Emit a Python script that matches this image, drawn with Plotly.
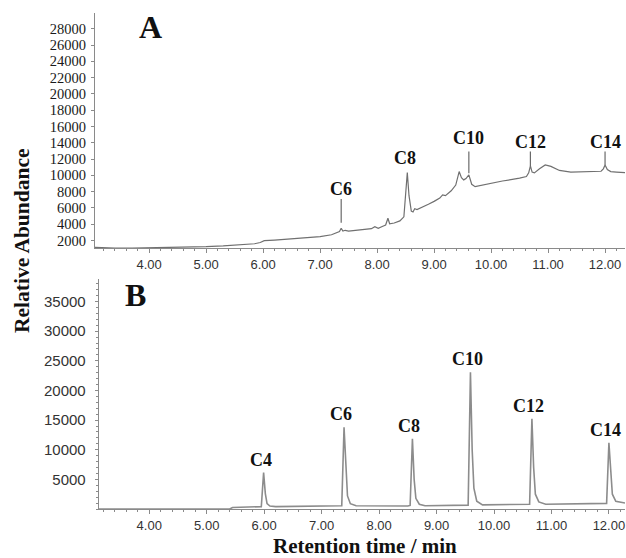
import plotly.graph_objects as go

# ---------------- Data ----------------
# Panel A: sample chromatogram (time in min, relative abundance)
a_time = [3.05, 3.2, 3.4, 3.7, 4.0, 4.3, 4.6, 5.0, 5.3, 5.6, 5.85, 5.95, 6.02, 6.2, 6.5,
          6.8, 7.0, 7.2, 7.3, 7.34, 7.37, 7.40, 7.44, 7.5, 7.7, 7.9, 7.96, 8.02, 8.1,
          8.15, 8.19, 8.22, 8.3, 8.4, 8.47, 8.50, 8.53, 8.56, 8.60, 8.63, 8.66, 8.7,
          8.8, 8.9, 9.0, 9.1, 9.15, 9.2, 9.3, 9.38, 9.44, 9.48, 9.52, 9.56, 9.61, 9.66,
          9.72, 9.9, 10.2, 10.5, 10.62, 10.66, 10.69, 10.72, 10.76, 10.85, 10.95, 11.05,
          11.2, 11.4, 11.6, 11.8, 11.93, 11.97, 12.0, 12.04, 12.1, 12.2, 12.35]
a_abund = [1150, 1080, 1060, 1070, 1090, 1130, 1180, 1240, 1330, 1450, 1600, 1750, 1980,
           2050, 2180, 2380, 2470, 2700, 2950, 3100, 3500, 3150, 3250, 3150, 3300, 3450,
           3700, 3500, 3750, 3900, 4730, 4050, 4150, 4400, 4900, 7500, 10330, 7500, 5600,
           5500, 5900, 5800, 6100, 6450, 6800, 7200, 7600, 7500, 8100, 8800, 10460, 9700,
           9440, 9600, 10050, 8900, 8610, 8900, 9300, 9650, 9850, 10300, 11160, 10400,
           10300, 10800, 11280, 11100, 10600, 10400, 10420, 10450, 10500, 10800, 11280,
           10700, 10460, 10400, 10330]

# Panel A peak marks (label, time, line bottom, line top)
a_mark_names = ["C6", "C10", "C12", "C14"]
a_mark_time = [7.37, 9.61, 10.69, 12.0]
a_mark_bottom = [4190, 10260, 11160, 11280]
a_mark_top = [7100, 12910, 12910, 12910]
# Panel A label placed directly on a peak apex
a_apex_names = ["C8"]
a_apex_time = [8.53]
a_apex_abund = [10330]

# Panel B: standard chromatogram
b_time = [3.12, 5.40, 5.45, 5.90, 5.95, 5.99, 6.02, 6.05, 6.10, 6.20,
          7.30, 7.35, 7.39, 7.42, 7.45, 7.50, 7.60,
          8.50, 8.54, 8.58, 8.61, 8.64, 8.70, 8.80,
          9.52, 9.55, 9.59, 9.62, 9.65, 9.70, 9.80,
          10.60, 10.62, 10.66, 10.69, 10.72, 10.78, 10.90,
          11.92, 11.96, 12.00, 12.03, 12.06, 12.12, 12.28]
b_abund = [0, 0, 250, 300, 400, 6130, 2600, 900, 500, 400,
           450, 550, 13800, 6500, 2200, 900, 550,
           500, 600, 11850, 5000, 1800, 800, 550,
           550, 650, 23060, 10000, 3500, 1300, 700,
           700, 800, 15210, 7000, 2500, 1200, 800,
           850, 950, 11180, 6000, 2500, 1300, 1000]
b_peak_names = ["C4", "C6", "C8", "C10", "C12", "C14"]
b_peak_time = [5.99, 7.39, 8.58, 9.59, 10.66, 12.00]
b_peak_abund = [6130, 13800, 11850, 23060, 15210, 11180]

x_ticks = [4, 5, 6, 7, 8, 9, 10, 11, 12]
x_tick_text = ["4.00", "5.00", "6.00", "7.00", "8.00", "9.00", "10.00", "11.00", "12.00"]
a_y_ticks = [2000, 4000, 6000, 8000, 10000, 12000, 14000, 16000, 18000, 20000,
             22000, 24000, 26000, 28000]
b_y_ticks = [5000, 10000, 15000, 20000, 25000, 30000, 35000]

# ---------------- Figure ----------------
SERIF = "Liberation Serif, Times New Roman, serif"
SANS = "Liberation Sans, Arial, sans-serif"
AXIS_GRAY = "#8a8a8a"

fig = go.Figure()

fig.add_trace(go.Scatter(x=a_time, y=a_abund, mode="lines",
                         line=dict(color="#707070", width=1.2),
                         xaxis="x", yaxis="y", showlegend=False, hoverinfo="skip"))

# vertical marker lines in panel A
mx, my = [], []
for t, lo, hi in zip(a_mark_time, a_mark_bottom, a_mark_top):
    mx += [t, t, None]
    my += [lo, hi, None]
fig.add_trace(go.Scatter(x=mx, y=my, mode="lines",
                         line=dict(color="#6a6a6a", width=1.2),
                         xaxis="x", yaxis="y", showlegend=False, hoverinfo="skip"))

fig.add_trace(go.Scatter(x=b_time, y=b_abund, mode="lines",
                         line=dict(color="#8c8c8c", width=1.6),
                         xaxis="x2", yaxis="y2", showlegend=False, hoverinfo="skip"))

annotations = []
label_font = dict(family=SERIF, size=18, color="#111111", weight="bold")
for name, t, top in zip(a_mark_names, a_mark_time, a_mark_top):
    annotations.append(dict(x=t, y=top, xref="x", yref="y", text=name, showarrow=False,
                            xanchor="center", yanchor="bottom",
                            yshift=2 if name == "C10" else -2, font=label_font))
for name, t, v in zip(a_apex_names, a_apex_time, a_apex_abund):
    annotations.append(dict(x=t, y=v, xref="x", yref="y", text=name, showarrow=False,
                            xanchor="center", yanchor="bottom", yshift=3, xshift=-2,
                            font=label_font))
for name, t, v in zip(b_peak_names, b_peak_time, b_peak_abund):
    annotations.append(dict(x=t, y=v, xref="x2", yref="y2", text=name, showarrow=False,
                            xanchor="center", yanchor="bottom", yshift=1, xshift=-3,
                            font=label_font))

# panel letters and axis titles
annotations.append(dict(x=0.1038, y=0.971, xref="paper", yref="paper", text="A",
                        showarrow=False, xanchor="center", yanchor="middle",
                        font=dict(family=SERIF, size=32, color="#111111", weight="bold")))
annotations.append(dict(x=0.077, y=0.432, xref="paper", yref="paper", text="B",
                        showarrow=False, xanchor="center", yanchor="middle",
                        font=dict(family=SERIF, size=32, color="#111111", weight="bold")))
annotations.append(dict(x=-0.138, y=0.542, xref="paper", yref="paper",
                        text="Relative Abundance", textangle=-90, showarrow=False,
                        xanchor="center", yanchor="middle",
                        font=dict(family=SERIF, size=21.5, color="#111111", weight="bold")))
annotations.append(dict(x=0.509, y=-0.0746, xref="paper", yref="paper",
                        text="Retention time / min", showarrow=False,
                        xanchor="center", yanchor="middle",
                        font=dict(family=SERIF, size=21, color="#111111", weight="bold")))

xaxis_common = dict(tickvals=x_ticks, ticktext=x_tick_text, showline=True,
                    linecolor=AXIS_GRAY, linewidth=1, ticks="outside", ticklen=4,
                    tickcolor=AXIS_GRAY, showgrid=False, zeroline=False, automargin=False,
                    tickfont=dict(family=SANS, size=13, color="#333333"),
                    minor=dict(dtick=0.2, tick0=0, ticks="outside", ticklen=2,
                               tickcolor=AXIS_GRAY, showgrid=False))

fig.update_layout(
    width=626, height=558,
    margin=dict(l=95, r=1, t=13, b=49, autoexpand=False),
    paper_bgcolor="white", plot_bgcolor="white",
    xaxis=dict(domain=[0, 1], range=[3.05, 12.35], anchor="y", **xaxis_common),
    yaxis=dict(domain=[0.5256, 1.0], range=[1040, 29930], anchor="x",
               tickvals=a_y_ticks, ticktext=[str(v) for v in a_y_ticks],
               showline=True, linecolor=AXIS_GRAY, linewidth=1, automargin=False,
               ticks="outside", ticklen=3, tickcolor=AXIS_GRAY, showgrid=False,
               zeroline=False, ticklabelstandoff=2,
               tickfont=dict(family=SERIF, size=14.5, color="#1a1a1a")),
    xaxis2=dict(domain=[0.007, 1], range=[3.12, 12.28], anchor="y2", **xaxis_common),
    yaxis2=dict(domain=[0, 0.4637], range=[0, 38800], anchor="x2",
                tickvals=b_y_ticks, ticktext=[str(v) for v in b_y_ticks],
                showline=True, linecolor=AXIS_GRAY, linewidth=1, automargin=False,
                ticks="outside", ticklen=3, tickcolor=AXIS_GRAY, showgrid=False,
                zeroline=False, ticklabelstandoff=6,
                tickfont=dict(family=SANS, size=15, color="#333333"),
                minor=dict(dtick=1000, ticks="outside", ticklen=2, tickcolor=AXIS_GRAY)),
    annotations=annotations,
)

fig.write_html("out.html", config={"displayModeBar": False},
               post_script="document.body.style.margin='0';document.body.style.overflow='hidden';")
